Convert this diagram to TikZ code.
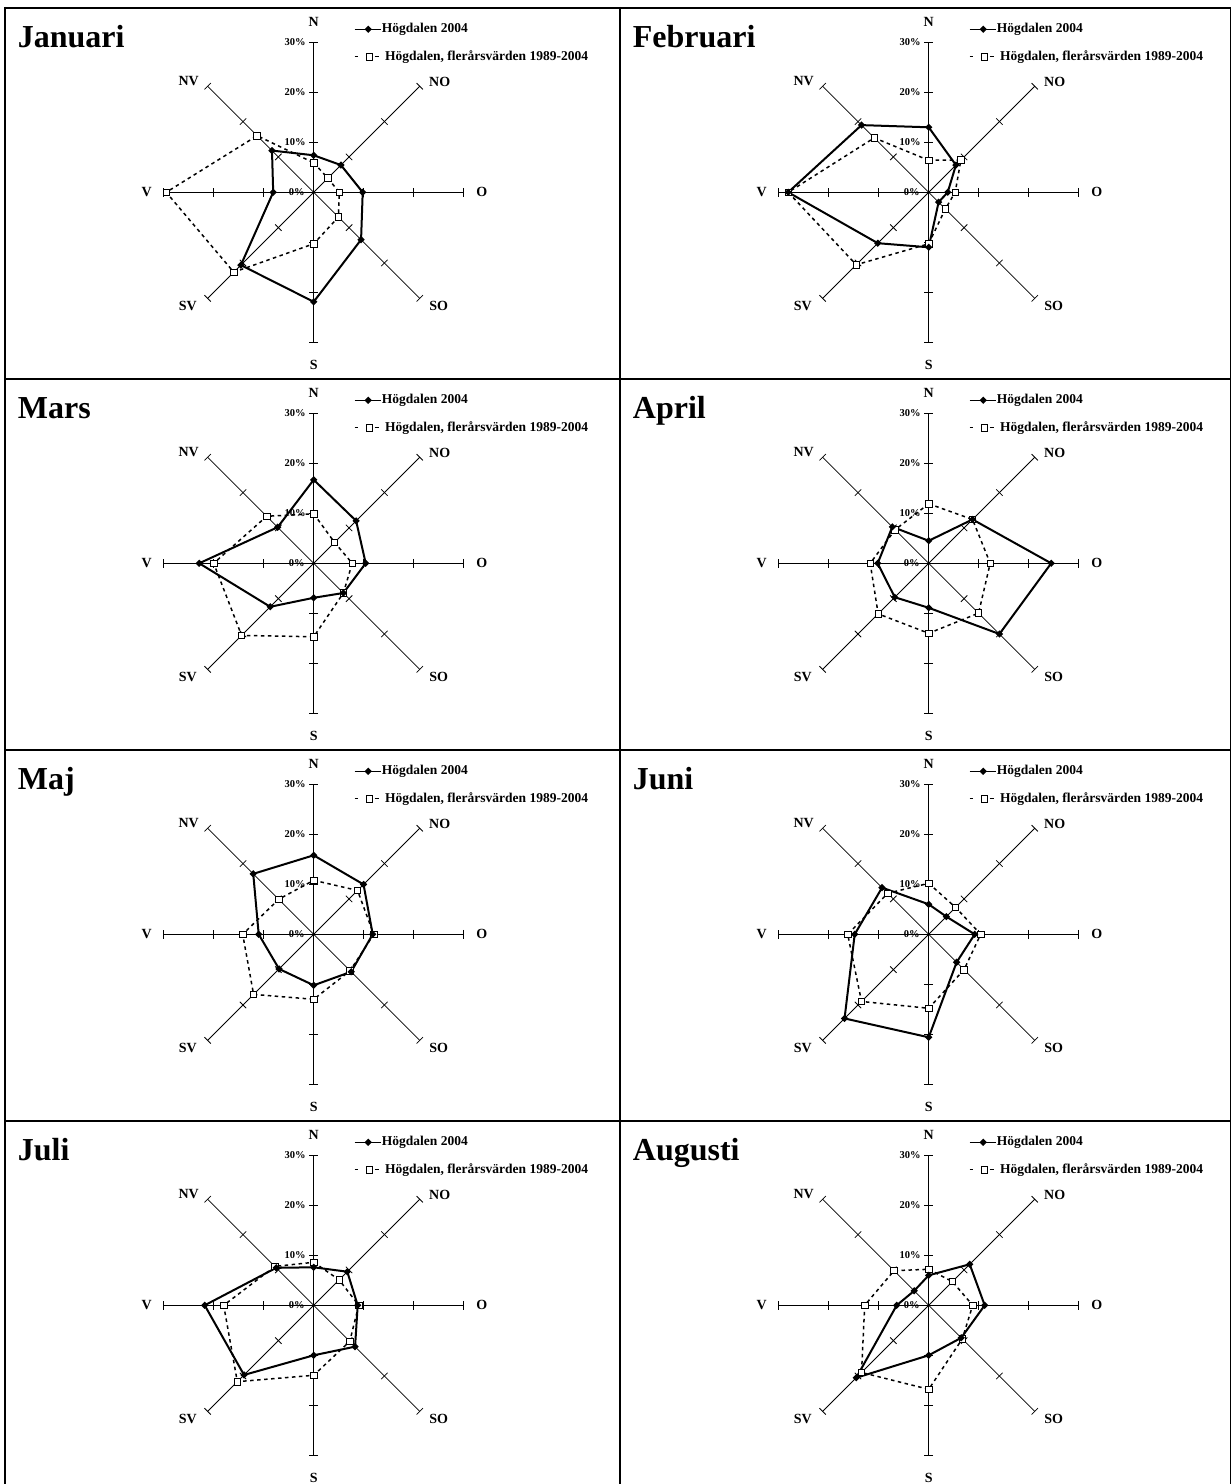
\documentclass[tikz,border=0pt]{standalone}
\usepackage{fontspec}
\setmainfont{Liberation Serif}
\usetikzlibrary{shapes.geometric}
\tikzset{
 tbl/.style={line width=2pt},
 mainaxis/.style={line width=1.3pt},
 diagaxis/.style={line width=0.8pt},
 serA/.style={line width=2pt, line join=miter},
 serB/.style={line width=1.5pt, dash pattern=on 3.5pt off 3.5pt},
 dmark/.style={diamond, fill=black, inner sep=0pt, minimum width=7.5pt, minimum height=7.5pt},
 smark/.style={rectangle, draw=black, fill=white, line width=0.8pt, inner sep=0pt, minimum size=6.5pt},
 dirlbl/.style={font=\fontsize{14}{14}\selectfont\bfseries, inner sep=0pt},
 pctlbl/.style={font=\fontsize{10.5}{10.5}\selectfont\bfseries, inner sep=0pt, anchor=east},
 leglbl/.style={font=\fontsize{13.5}{13.5}\selectfont\bfseries, inner sep=0pt, anchor=west},
 ttl/.style={font=\fontsize{32}{32}\selectfont\bfseries, inner sep=0pt, anchor=base west},
}
\newcommand{\radarchart}[6]{%
\begin{scope}[shift={(#2,#3)}]
 \draw[mainaxis] (0,-150) -- (0,150);
 \draw[mainaxis] (-150,0) -- (150,0);
 \draw[diagaxis] (-135:150) -- (45:150);
 \draw[diagaxis] (135:150) -- (-45:150);
 \foreach \a in {0,90,180,270}{\foreach \r in {50,100,150}{\draw[mainaxis] (\a:\r) ++({\a+90}:4.5) -- ++({\a-90}:9);}}
 \foreach \a in {45,135,225,315}{\foreach \r in {50,100,150}{\draw[diagaxis] (\a:\r) ++({\a+90}:4.5) -- ++({\a-90}:9);}}
 \node[dirlbl] (#1N) at (0,170.6) {N};
 \node[dirlbl] (#1S) at (0,-172.7) {S};
 \node[dirlbl] (#1O) at (168,0) {O};
 \node[dirlbl] (#1V) at (-167,0) {V};
 \node[dirlbl] (#1NO) at (126,110.6) {NO};
 \node[dirlbl] (#1NV) at (-125,111) {NV};
 \node[dirlbl] (#1SO) at (125,-113.7) {SO};
 \node[dirlbl] (#1SV) at (-126,-113.7) {SV};
 \node[pctlbl] (#1pA) at (-8,150) {30\%};
 \node[pctlbl] (#1pB) at (-8,100) {20\%};
 \node[pctlbl] (#1pC) at (-8,50) {10\%};
 \node[pctlbl] (#1pD) at (-9,0) {0\%};
 \node[ttl] (#1T) at (-296,144.3) {#4};
 \foreach \v [count=\i] in {#6}{\coordinate (#1d\i) at ({90-45*(\i-1)}:{5*\v});}
 \foreach \v [count=\i] in {#5}{\coordinate (#1s\i) at ({90-45*(\i-1)}:{5*\v});}
 \draw[serB] (#1d1) -- (#1d2) -- (#1d3) -- (#1d4) -- (#1d5) -- (#1d6) -- (#1d7) -- (#1d8) -- cycle;
 \draw[serA] (#1s1) -- (#1s2) -- (#1s3) -- (#1s4) -- (#1s5) -- (#1s6) -- (#1s7) -- (#1s8) -- cycle;
 \foreach \i in {1,...,8}{\node[smark] (#1dm\i) at (#1d\i) {};}
 \foreach \i in {1,...,8}{\node[dmark] (#1sm\i) at (#1s\i) {};}
 % legend
 \coordinate (#1la) at (41,163); \coordinate (#1lb) at (67,163);
 \draw[serA, line width=1.5pt] (#1la) -- (#1lb);
 \node[dmark] (#1lm) at (54.5,163) {};
 \node[leglbl] (#1lt) at (68,163) {Högdalen 2004};
 \coordinate (#1lc) at (41,135.6); \coordinate (#1ld) at (44,135.6);
 \coordinate (#1le) at (61,135.6); \coordinate (#1lf) at (65.6,135.6);
 \draw[line width=1.5pt] (#1lc) -- (#1ld);
 \draw[line width=1.5pt] (#1le) -- (#1lf);
 \node[smark] (#1ln) at (55.5,135.6) {};
 \node[leglbl] (#1lu) at (71.3,135.6) {Högdalen, flerårsvärden 1989-2004};
\end{scope}}
\begin{document}
\begin{tikzpicture}[x=1pt,y=1pt]
\useasboundingbox (0,0) rectangle (1231,1484);
\radarchart{jan}{313.7}{1291.7}{Januari}{7.4,7.7,9.8,13.4,21.9,20.6,8.1,11.8}{5.9,4.0,5.1,7.0,10.3,22.6,29.5,16.0}
\radarchart{feb}{928.7}{1291.7}{Februari}{13,7.7,3.8,2.8,11,14.4,28.1,19}{6.4,9.1,5.3,4.7,10.3,20.5,28.1,15.4}
\radarchart{mar}{313.7}{920.7}{Mars}{16.7,12,10.4,8.4,6.9,12.3,22.9,10.2}{9.9,5.9,7.7,8.4,14.7,20.4,20,13.3}
\radarchart{apr}{928.7}{920.7}{April}{4.5,12.4,24.5,20,8.9,9.6,10.2,10.3}{11.9,12.4,12.3,14.1,14,14.3,11.7,9.5}
\radarchart{maj}{313.7}{549.7}{Maj}{15.8,14.1,11.8,10.6,10.2,9.8,11,17.1}{10.8,12.4,12,10.3,13,17,14.2,9.9}
\radarchart{jun}{928.7}{549.7}{Juni}{6,5,9.2,7.9,20.6,23.8,14.8,13.2}{10.2,7.6,10.4,10,14.8,19,16.2,11.6}
\radarchart{jul}{313.7}{178.7}{Juli}{7.6,9.5,8.8,11.7,10,19.7,21.8,10.6}{8.6,7.2,9,10.2,14,21.6,18,11}
\radarchart{aug}{928.7}{178.7}{Augusti}{6,11.6,11.2,9.2,10,20.5,6.4,4.1}{7.2,6.7,8.8,9.5,16.8,19,12.8,9.8}
% table
\coordinate (tl) at (5,1477); \coordinate (bl) at (5,0);
\coordinate (tm) at (620,1477); \coordinate (bm) at (620,0);
\coordinate (tr) at (1230.5,1477); \coordinate (br) at (1230.5,0);
\draw[tbl] (tl) -- (bl);
\draw[tbl] (tm) -- (bm);
\draw[tbl] (tr) -- (br);
\foreach \yy [count=\k] in {1476,1105,734,363}{
 \coordinate (hl\k) at (4,\yy); \coordinate (hr\k) at (1231,\yy);
 \draw[tbl] (hl\k) -- (hr\k);}
\end{tikzpicture}
\end{document}
